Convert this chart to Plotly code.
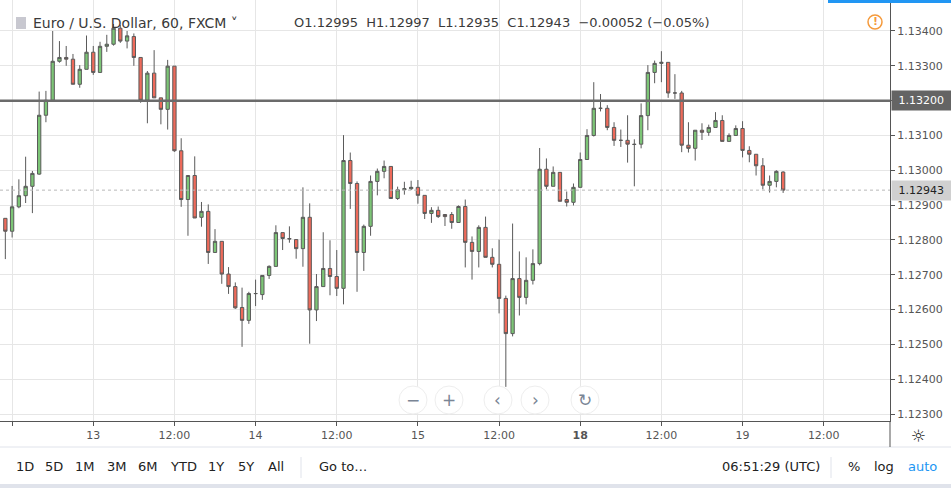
import plotly.graph_objects as go

opens = [1.12862,1.12825,1.12895,1.12927,1.12954,1.12989,1.13158,1.13201,1.13313,1.13324,
1.13319,1.13247,1.1329,1.13339,1.13281,1.13356,1.13362,1.13408,1.13371,1.13384,
1.13324,1.13201,1.13279,1.13208,1.13175,1.13299,1.13056,1.12916,1.12985,1.12865,
1.12882,1.12764,1.12796,1.12702,1.12666,1.12606,1.12569,1.12646,1.12643,1.12698,
1.12724,1.12821,1.12804,1.12801,1.12775,1.12865,1.12599,1.12666,1.12718,1.12695,
1.12661,1.13028,1.12962,1.12764,1.12839,1.12968,1.12997,1.13011,1.12919,1.12944,
1.12947,1.12951,1.12928,1.12876,1.12885,1.12873,1.12873,1.1285,1.12896,1.12793,
1.12767,1.12836,1.1275,1.1273,1.12632,1.12531,1.12689,1.12635,1.12684,1.12732,
1.13003,1.12954,1.12994,1.12916,1.12908,1.12951,1.13031,1.131,1.13178,1.13178,
1.13123,1.13086,1.13086,1.13075,1.13075,1.13157,1.13281,1.13307,1.1331,1.13222,
1.13222,1.13072,1.13063,1.13115,1.13109,1.13123,1.13143,1.13083,1.131,1.1312,
1.13057,1.13046,1.13013,1.12957,1.12968,1.12995]
highs = [1.12862,1.12955,1.12974,1.13039,1.12998,1.13226,1.13228,1.134,1.13371,1.13357,
1.13334,1.13302,1.13387,1.13357,1.13369,1.13389,1.1342,1.13417,1.134,1.13393,
1.13324,1.13285,1.13345,1.13208,1.13317,1.13299,1.13092,1.12985,1.1304,1.12909,
1.12902,1.12831,1.12796,1.12722,1.12678,1.12663,1.12651,1.12686,1.12698,1.12727,
1.12842,1.12821,1.12839,1.12801,1.12951,1.12905,1.12702,1.12822,1.12799,1.12771,
1.13101,1.13051,1.12968,1.12844,1.12985,1.13005,1.13028,1.13011,1.12953,1.12967,
1.1297,1.12972,1.12928,1.12894,1.12896,1.12873,1.1288,1.12899,1.12916,1.1281,
1.12842,1.12867,1.12776,1.12801,1.1264,1.12847,1.12767,1.1275,1.12773,1.13064,
1.13034,1.13011,1.12994,1.12939,1.12962,1.13051,1.13118,1.13253,1.13219,1.13187,
1.13138,1.13117,1.13158,1.13089,1.13192,1.13302,1.13315,1.13342,1.1331,1.13276,
1.13228,1.13138,1.13115,1.13135,1.13131,1.13167,1.13158,1.13106,1.13129,1.13141,
1.13069,1.13046,1.13035,1.12985,1.13,1.12997]
lows = [1.12745,1.12807,1.12891,1.12906,1.12877,1.12987,1.13138,1.13201,1.13309,1.133,
1.13247,1.13237,1.1329,1.13274,1.13281,1.1334,1.13358,1.13366,1.1335,1.133,
1.13194,1.13135,1.13208,1.13132,1.13117,1.13053,1.12895,1.12812,1.12863,1.12838,
1.12731,1.12764,1.12674,1.12645,1.12602,1.12493,1.12559,1.1261,1.12628,1.12688,
1.12724,1.12771,1.12792,1.12746,1.12723,1.12502,1.12567,1.12666,1.12641,1.12639,
1.12615,1.12889,1.12651,1.12711,1.12812,1.12928,1.12977,1.12919,1.12915,1.1293,
1.12943,1.12904,1.1286,1.12849,1.12863,1.1284,1.12832,1.1285,1.12721,1.12686,
1.12721,1.1275,1.12721,1.12589,1.12378,1.12523,1.12583,1.12615,1.12672,1.12727,
1.12945,1.12954,1.12911,1.12896,1.12899,1.12951,1.13031,1.13097,1.13169,1.13115,
1.1307,1.13067,1.13022,1.12954,1.13063,1.13115,1.1325,1.13253,1.13208,1.13205,
1.13052,1.13051,1.13028,1.13087,1.13099,1.13123,1.13083,1.13083,1.131,1.13037,
1.13023,1.12985,1.12945,1.12936,1.12951,1.12935]
closes = [1.12825,1.12895,1.12927,1.12954,1.12991,1.13158,1.13201,1.13313,1.13324,1.13319,
1.13247,1.1329,1.13339,1.13281,1.13356,1.13362,1.13408,1.13371,1.13386,1.13324,
1.13201,1.13279,1.13208,1.13175,1.13299,1.13056,1.12916,1.12985,1.12863,1.12882,
1.12764,1.12796,1.12702,1.12666,1.12605,1.12569,1.12646,1.12646,1.12698,1.12724,
1.12821,1.12804,1.12803,1.12775,1.12865,1.12599,1.12666,1.12718,1.12695,1.12661,
1.13028,1.12962,1.12764,1.12839,1.12968,1.12997,1.13011,1.12919,1.12944,1.12947,
1.12951,1.12928,1.12876,1.12885,1.12867,1.12867,1.1285,1.12896,1.12793,1.12767,
1.12836,1.1275,1.1273,1.12632,1.12531,1.12689,1.12635,1.12684,1.12732,1.13003,
1.12954,1.12994,1.12911,1.12908,1.12951,1.13031,1.131,1.13178,1.13178,1.13123,
1.13086,1.13086,1.13075,1.13074,1.13157,1.13281,1.13307,1.1331,1.13222,1.13222,
1.13072,1.13063,1.13115,1.13109,1.13123,1.13143,1.13083,1.131,1.1312,1.13057,
1.13046,1.13013,1.12957,1.12968,1.12997,1.12943]

x_ticks = [1, 13, 25, 37, 49, 61, 73, 85, 97, 109, 121]
x_labels = ["12:00", "13", "12:00", "14", "12:00", "15", "12:00", "<b>18</b>", "12:00", "19", "12:00"]
y_ticks = [1.123, 1.124, 1.125, 1.126, 1.127, 1.128, 1.129, 1.130, 1.131, 1.132, 1.133, 1.134]
level = 1.132
last_price = 1.12943

idx = list(range(len(opens)))
FONT = "DejaVu Sans"
fig = go.Figure(go.Candlestick(
    x=idx, open=opens, high=highs, low=lows, close=closes,
    increasing=dict(line=dict(color="#5a5a5a", width=1), fillcolor="#7cc576"),
    decreasing=dict(line=dict(color="#5a5a5a", width=1), fillcolor="#ee6a5a"),
    whiskerwidth=0, showlegend=False, hoverinfo="skip"))

ytext = ["" if abs(v - level) < 1e-9 else f"{v:.5f}" for v in y_ticks]
fig.update_layout(
    width=951, height=488, margin=dict(l=0, r=61, t=0, b=67, autoexpand=False),
    paper_bgcolor="white", plot_bgcolor="white",
    font=dict(family=FONT, size=12, color="#555"),
    xaxis=dict(range=[-0.79, 130.8], tickvals=x_ticks, ticktext=x_labels, automargin=False,
               showgrid=True, gridcolor="#e6e6e6", rangeslider=dict(visible=False),
               showline=True, linecolor="#555", ticks="outside", ticklen=4, tickcolor="#555",
               tickfont=dict(size=11, color="#555"), zeroline=False, fixedrange=True),
    yaxis=dict(range=[1.12280, 1.13489], side="right", tickvals=y_ticks, automargin=False,
               ticktext=ytext, showgrid=True, gridcolor="#e6e6e6",
               showline=True, linecolor="#555", ticks="outside", ticklen=4, tickcolor="#555",
               tickfont=dict(size=11, color="#555"), zeroline=False),
)

ann = []
def T(x, y, text, size=13, color="#333", xanchor="left", bg=None):
    ann.append(dict(x=x, y=y, xref="paper", yref="paper", text=text, showarrow=False,
                    xanchor=xanchor, yanchor="middle", font=dict(size=size, color=color, family=FONT),
                    bgcolor=bg))

px = lambda v: v / 890.0
py = lambda v: (421.0 - v) / 421.0

shapes = [
    dict(type="line", xref="paper", yref="y", x0=0, x1=1, y0=level, y1=level,
         line=dict(color="#6b6b6b", width=2.5)),
    dict(type="line", xref="paper", yref="y", x0=0, x1=1, y0=last_price, y1=last_price,
         line=dict(color="#b8b8b8", width=1, dash="dot")),
]

T(px(31), py(23), "Euro / U.S. Dollar, 60, FXCM ˅", size=14, color="#3a3a3a")
T(px(292), py(23), "O1.12995  H1.12997  L1.12935  C1.12943  −0.00052 (−0.05%)", size=13, color="#3a3a3a")
T(px(875), py(22), "<b>!</b>", size=11, color="#f59a3c", xanchor="center")
shapes += [
    dict(type="rect", xref="paper", yref="paper", x0=px(16), x1=px(26), y0=py(29), y1=py(17),
         fillcolor="#c8c8d0", line=dict(width=0)),
    dict(type="circle", xref="paper", yref="paper", x0=px(868), x1=px(882), y0=py(29), y1=py(15),
         line=dict(color="#f59a3c", width=1.5)),
    dict(type="rect", xref="paper", yref="paper", x0=px(828), x1=px(951), y0=py(3), y1=py(0),
         fillcolor="#2196f3", line=dict(width=0)),
]
for v, bg, fc in [(level, "#646464", "#ffffff"), (last_price, "#d0d0d0", "#222222")]:
    ann.append(dict(x=px(891), y=v, xref="paper", yref="y", text=f" {v:.5f}  ", showarrow=False,
                    xanchor="left", yanchor="middle", bgcolor=bg, borderpad=3,
                    font=dict(size=11, color=fc, family=FONT)))

for cx, sym in [(413, "−"), (449, "+"), (498, "‹"), (535, "›"), (585, "↻")]:
    shapes.append(dict(type="circle", xref="paper", yref="paper", x0=px(cx - 14), x1=px(cx + 14),
                       y0=py(414), y1=py(386), fillcolor="white", line=dict(color="#eeeeee", width=1)))
    T(px(cx), py(400), sym, size=17, color="#7a8595", xanchor="center")

T(px(918), py(436), "☼", size=17, color="#222", xanchor="center")
shapes.append(dict(type="line", xref="paper", yref="paper", x0=px(0), x1=px(951), y0=py(447), y1=py(447),
                   line=dict(color="#e0e3eb", width=1)))
shapes.append(dict(type="line", xref="paper", yref="paper", x0=px(890), x1=px(890), y0=py(421), y1=py(447),
                   line=dict(color="#555", width=1)))
for xx in [301, 831]:
    shapes.append(dict(type="line", xref="paper", yref="paper", x0=px(xx), x1=px(xx), y0=py(457), y1=py(478),
                       line=dict(color="#e0e3eb", width=1)))
shapes.append(dict(type="rect", xref="paper", yref="paper", x0=px(0), x1=px(951), y0=py(488), y1=py(484),
                   fillcolor="#e0e3eb", line=dict(width=0)))
for xx, t in [(25, "1D"), (54, "5D"), (85, "1M"), (117, "3M"), (148, "6M"), (183, "YTD"),
              (216, "1Y"), (246, "5Y"), (276, "All")]:
    T(px(xx), py(467), t, size=13, color="#222", xanchor="center")
T(px(317), py(467), "Go to…", size=13, color="#222")
T(px(720), py(467), "06:51:29 (UTC)", size=13, color="#222")
T(px(854), py(467), "%", size=13, color="#222", xanchor="center")
T(px(884), py(467), "log", size=13, color="#222", xanchor="center")
T(px(922), py(467), "auto", size=13, color="#2196f3", xanchor="center")

fig.update_layout(annotations=ann, shapes=shapes)
fig.write_html("out.html", config={"displayModeBar": False},
               post_script="document.body.style.margin='0';document.body.style.overflow='hidden';")
